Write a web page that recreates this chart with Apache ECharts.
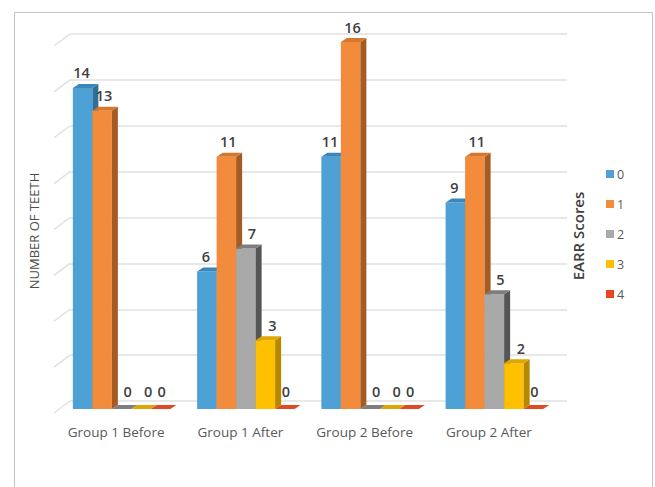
<!DOCTYPE html>
<html>
<head>
<meta charset="utf-8">
<script src="https://cdn.jsdelivr.net/npm/echarts@6/dist/echarts.min.js"></script>
<style>
html,body{margin:0;padding:0;background:#fff;}
#c{width:655px;height:487px;}
</style>
</head>
<body>
<div id="c"></div>
<script>
const categories = ['Group 1 Before', 'Group 1 After', 'Group 2 Before', 'Group 2 After'];
const scoreNames = ['0', '1', '2', '3', '4'];
const score0 = [14, 6, 11, 9];
const score1 = [13, 11, 16, 11];
const score2 = [0, 7, 0, 5];
const score3 = [0, 3, 0, 2];
const score4 = [0, 0, 0, 0];
const yTicks = [0, 2, 4, 6, 8, 10, 12, 14, 16];

const seriesValues = [score0, score1, score2, score3, score4];
const palette = [
  {front: '#4DA1D5', side: '#2F6F99', top: '#3B86BA'},
  {front: '#F28B3B', side: '#A65B22', top: '#D6772E'},
  {front: '#A9A9A9', side: '#555555', top: '#7E7E7E'},
  {front: '#FFC000', side: '#B58800', top: '#DFA500'},
  {front: '#E8461E', side: '#A33115', top: '#E04A22'}
];
// horizontal nudge of value labels per series (styling only)
const labelNudge = [-1, 2, 6, 7, 1];

const FONT = '"Open Sans", "Noto Sans", sans-serif';

function makeBarSeries(idx) {
  const col = palette[idx];
  return {
    name: scoreNames[idx],
    type: 'custom',
    itemStyle: {color: col.front},
    data: seriesValues[idx].map((v, i) => [i, v]),
    renderItem: function (params, api) {
      const cat = api.value(0);
      const val = api.value(1);
      const base = api.coord([cat, 0]);
      const top = api.coord([cat, val]);
      const catW = api.size([1, 0])[0];
      const bw = catW * 0.785 / 5;
      const shiftX = -10.5, shiftY = 8;
      const dx = 6, dy = 4;
      const x0 = base[0] + shiftX - 2.5 * bw + idx * bw;
      const yb = base[1] + shiftY;
      const yt = top[1] + shiftY;
      const children = [];
      if (yb - yt > 0.1) {
        children.push({type: 'rect', shape: {x: x0, y: yt, width: bw, height: yb - yt}, style: {fill: col.front}});
        children.push({type: 'polygon', shape: {points: [[x0 + bw, yt], [x0 + bw + dx, yt - dy], [x0 + bw + dx, yb - dy], [x0 + bw, yb]]}, style: {fill: col.side}});
      }
      children.push({type: 'polygon', shape: {points: [[x0, yt], [x0 + dx, yt - dy], [x0 + bw + dx, yt - dy], [x0 + bw, yt]]}, style: {fill: col.top}});
      const ly = val > 0 ? yt - 15 : yt - 18;
      children.push({type: 'text', style: {text: String(val), x: x0 + bw / 2 + labelNudge[idx], y: ly, align: 'center', verticalAlign: 'middle', fill: '#404040', font: '600 14.5px ' + FONT}});
      return {type: 'group', children: children};
    },
    z: 3
  };
}

const gridDiag = {
  name: 'wall',
  type: 'custom',
  silent: true,
  data: yTicks.map(v => [0, v]),
  renderItem: function (params, api) {
    const p = api.coord([0, api.value(1)]);
    const catW = api.size([1, 0])[0];
    const left = p[0] - catW / 2;
    return {type: 'line', shape: {x1: left - 16, y1: p[1] + 12, x2: left, y2: p[1]}, style: {stroke: '#e0e0e0', lineWidth: 1.5}};
  },
  z: 1
};

const chart = echarts.init(document.getElementById('c'), null, {renderer: 'svg'});
chart.setOption({
  backgroundColor: '#ffffff',
  animation: false,
  grid: {left: 70, right: 88, top: 34, bottom: 86, containLabel: false},
  xAxis: {
    type: 'category',
    data: categories,
    axisLine: {show: false},
    axisTick: {show: false},
    splitLine: {show: false},
    axisLabel: {interval: 0, hideOverlap: false, color: '#595959', fontFamily: FONT, fontSize: 13.5, margin: 24, padding: [0, 32, 0, 0]}
  },
  yAxis: {
    type: 'value',
    min: 0, max: 16, interval: 2,
    axisLine: {show: false},
    axisTick: {show: false},
    axisLabel: {show: false},
    splitLine: {lineStyle: {color: '#e0e0e0', width: 1.5}}
  },
  legend: {
    data: scoreNames,
    orient: 'vertical',
    left: 601, top: 162,
    itemWidth: 8, itemHeight: 8,
    itemGap: 16,
    icon: 'rect',
    textStyle: {color: '#595959', fontFamily: FONT, fontSize: 12.5, lineHeight: 14, padding: [0, 0, 0, -2]}
  },
  graphic: [
    {type: 'rect', shape: {x: 14.5, y: 12.5, width: 638, height: 500}, style: {fill: 'none', stroke: '#c4c4c4', lineWidth: 1}, silent: true, z: 0},
    {type: 'text', x: 34, y: 231, rotation: Math.PI / 2, style: {text: 'NUMBER OF TEETH', align: 'center', verticalAlign: 'middle', fill: '#4d4d4d', font: '13px ' + FONT}},
    {type: 'text', x: 578, y: 236, rotation: Math.PI / 2, style: {text: 'EARR Scores', align: 'center', verticalAlign: 'middle', fill: '#404040', font: '600 15px ' + FONT}}
  ],
  series: [gridDiag].concat([0, 1, 2, 3, 4].map(makeBarSeries))
});
</script>
</body>
</html>
